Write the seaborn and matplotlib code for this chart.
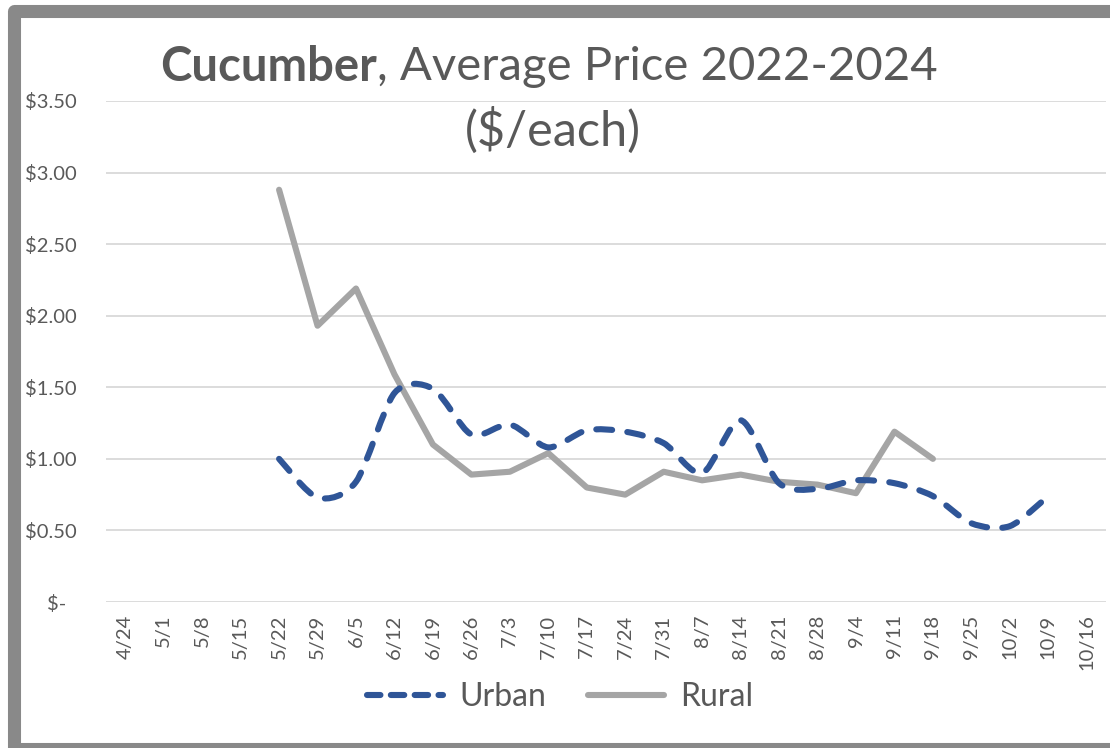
import matplotlib
matplotlib.use("Agg")
import matplotlib.pyplot as plt
from matplotlib.path import Path
from matplotlib.patches import PathPatch, Rectangle
from matplotlib.lines import Line2D
import numpy as np
import pandas as pd
import seaborn as sns

# weekly average price, $/each
weeks = ["4/24", "5/1", "5/8", "5/15", "5/22", "5/29", "6/5", "6/12", "6/19", "6/26",
         "7/3", "7/10", "7/17", "7/24", "7/31", "8/7", "8/14", "8/21", "8/28", "9/4",
         "9/11", "9/18", "9/25", "10/2", "10/9", "10/16"]
nan = np.nan
urban = [nan, nan, nan, nan,
         1.00, 0.73, 0.84, 1.46, 1.49, 1.17, 1.24, 1.08, 1.20, 1.19, 1.11,
         0.90, 1.27, 0.83, 0.79, 0.85, 0.83, 0.74, 0.55, 0.53, 0.74,
         nan]
rural = [nan, nan, nan, nan,
         2.88, 1.93, 2.19, 1.59, 1.10, 0.89, 0.91, 1.04, 0.80, 0.75, 0.91,
         0.85, 0.89, 0.84, 0.82, 0.76, 1.19, 1.00,
         nan, nan, nan, nan]
yticks = [0, 0.5, 1.0, 1.5, 2.0, 2.5, 3.0, 3.5]

blue = "#2F5597"
grey = "#A5A5A5"
txt = "#595959"

sns.set_style("white")
plt.rcParams["font.family"] = ["Lato", "DejaVu Sans"]

df = pd.DataFrame({"idx": np.arange(len(weeks)), "week": weeks,
                   "Urban": urban, "Rural": rural})

W, H = 1110, 748
fig = plt.figure(figsize=(W / 100, H / 100), dpi=100)
ax = fig.add_axes([106 / W, 146 / H, 1000 / W, 501 / H])

# rural: straight segments
sns.lineplot(data=df.dropna(subset=["Rural"]), x="idx", y="Rural", ax=ax,
             color=grey, linewidth=4.4, solid_capstyle="round",
             solid_joinstyle="round", legend=False, zorder=3)

# urban: smoothed (bezier through the points, like Excel's smoothed line)
u = df.dropna(subset=["Urban"])
pts = np.column_stack([u["idx"].to_numpy(float), u["Urban"].to_numpy(float)])
verts = [pts[0]]
codes = [Path.MOVETO]
n = len(pts)
k = 0.14
for i in range(n - 1):
    p0 = pts[max(i - 1, 0)]
    p1 = pts[i]
    p2 = pts[i + 1]
    p3 = pts[min(i + 2, n - 1)]
    verts += [p1 + (p2 - p0) * k, p2 - (p3 - p1) * k, p2]
    codes += [Path.CURVE4] * 3
urban_patch = PathPatch(Path(verts, codes), fill=False, edgecolor=blue,
                        linewidth=4.4, linestyle=(0, (2.6, 2.5)), zorder=4)
urban_patch.set_capstyle("round")
urban_patch.set_joinstyle("round")
ax.add_patch(urban_patch)

ax.set_xlim(-0.5, len(weeks) - 0.5)
ax.set_ylim(0, 3.5)
ax.set_xticks(df["idx"])
ax.set_xticklabels(weeks, rotation=90, fontsize=14.5, color=txt)
ax.set_yticks(yticks)
ax.set_yticklabels([f"${v:.2f}" if v > 0 else "$-  " for v in yticks],
                   fontsize=14.5, color=txt)
ax.tick_params(axis="both", length=0)
ax.tick_params(axis="y", pad=21)
ax.tick_params(axis="x", pad=9)
for lab in ax.get_xticklabels():
    lab.set_verticalalignment("top")
ax.grid(axis="y", color="#D9D9D9", linewidth=1.3)
ax.grid(axis="x", visible=False)
for s in ax.spines.values():
    s.set_visible(False)
ax.set_xlabel("")
ax.set_ylabel("")

# title: bold first word, rest regular
t1 = fig.text(160 / W, 1 - 67 / H, "Cucumber", fontsize=34, fontweight="bold",
              color=txt, ha="left", va="center")
fig.canvas.draw()
bb = t1.get_window_extent()
fig.text(bb.x1 / W, 1 - 67 / H, ", Average Price 2022-2024", fontsize=34,
         color=txt, ha="left", va="center")
fig.text(553 / W, 1 - 130 / H, "($/each)", fontsize=35, color=txt,
         ha="center", va="center")

handles = [Line2D([], [], color=blue, lw=4.4, linestyle=(0, (2.2, 1.7)),
                  dash_capstyle="round"),
           Line2D([], [], color=grey, lw=4.4, solid_capstyle="round")]
fig.legend(handles, ["Urban", "Rural"], loc="center",
           bbox_to_anchor=(560 / W, 1 - 697 / H), ncol=2, frameon=False,
           fontsize=23, labelcolor=txt, handlelength=2.4, columnspacing=1.3,
           handletextpad=0.5)

# grey frame around the chart
fig.patches.append(Rectangle((13.5 / W, -0.5 / H), 1101 / W, 737.5 / H,
                             transform=fig.transFigure, fill=False,
                             edgecolor="#898989", linewidth=9.4,
                             joinstyle="round", zorder=0))

fig.savefig("out.png", dpi=100)
